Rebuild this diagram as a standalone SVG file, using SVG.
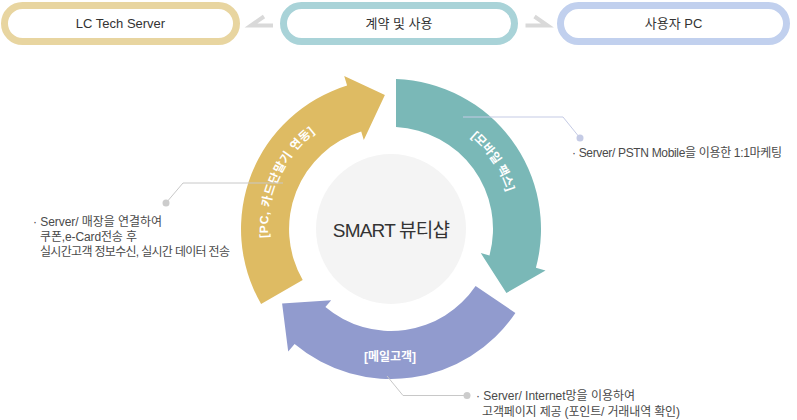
<svg xmlns="http://www.w3.org/2000/svg" width="797" height="420" viewBox="0 0 797 420">
<defs>
<style>
.pill{fill:#fff;stroke-width:7}
.pt{font-family:"Liberation Sans","Noto Sans CJK KR",sans-serif;font-size:13px;fill:#333;text-anchor:middle}
.chev{fill:none;stroke:#D9D9D9;stroke-width:4;stroke-linejoin:miter}
.lbl{font-family:"Liberation Sans","Noto Sans CJK KR",sans-serif;font-size:12px;font-weight:bold;fill:#fff}
.note{font-family:"Liberation Sans","Noto Sans CJK KR",sans-serif;font-size:12px;fill:#4a4a4a}
.ln{fill:none;stroke-width:1}
</style>
<path id="pathY" d="M 275.4 271.1 A 123 123 0 0 1 344.9 115.0"/>
<path id="pathG" d="M 459.2 127.9 A 122 122 0 0 1 510.8 205.7"/>
</defs>
<rect width="797" height="420" fill="#fff"/>

<g id="node-lctech">
<rect class="pill" x="4.5" y="5.5" width="232" height="36" rx="18" stroke="#E8D5A0"/>
<text class="pt" x="120.5" y="28">LC Tech Server</text>
</g>
<g id="node-contract">
<rect class="pill" x="283.5" y="5.5" width="231" height="36" rx="18" stroke="#A9D3D8"/>
<text class="pt" x="399" y="28">계약 및 사용</text>
</g>
<g id="node-userpc">
<rect class="pill" x="560.5" y="5.5" width="226" height="36" rx="18" stroke="#C1D0EE"/>
<text class="pt" x="673.5" y="28">사용자 PC</text>
</g>

<g id="node-center">
<circle cx="391" cy="229" r="75" fill="#F4F4F4"/>
<text x="391" y="237" text-anchor="middle" font-family="'Liberation Sans','Noto Sans CJK KR',sans-serif" font-size="19" letter-spacing="-0.8" fill="#333">SMART 뷰티샵</text>
</g>

<g id="node-pc">
<path d="M 261.1 304 A 150 150 0 0 1 347.1 85.6 L 344.2 76 L 384.9 95.1 L 363.8 140.1 L 361.2 131.5 A 102 102 0 0 0 302.7 280 Z" fill="#DEBB63"/>
<text class="lbl" letter-spacing="0.6"><textPath href="#pathY" startOffset="50%" text-anchor="middle">[PC, 카드단말기 연동]</textPath></text>
</g>
<g id="node-mobile">
<path d="M 396 79.1 A 150 150 0 0 1 535.9 267.8 L 545.5 270.4 L 506.4 293 L 480.8 253.1 L 489.5 255.4 A 102 102 0 0 0 396 127 Z" fill="#7AB8B7"/>
<text class="lbl"><textPath href="#pathG" startOffset="50%" text-anchor="middle">[모바일 팩스]</textPath></text>
</g>
<g id="node-mail">
<path d="M 515.4 312.9 A 150 150 0 0 1 294.6 343.9 L 288.2 351.6 L 282.1 303.6 L 331.2 300.2 L 325.4 307.1 A 102 102 0 0 0 475.6 286 Z" fill="#919BCE"/>
<text class="lbl" x="390" y="361" text-anchor="middle">[메일고객]</text>
</g>

<g id="connectors">
<polyline class="chev" points="264,16.5 251,25.5 273,25.5"/>
<polyline class="chev" points="534.5,16.5 547.5,25.5 525.5,25.5"/>
<polyline class="ln" stroke="#C8C8C8" points="283,183 183,183 166,203"/>
<circle cx="166" cy="203" r="3.5" fill="#CCCCCC"/>
<polyline class="ln" stroke="#C5CBE5" points="463,117 563,117 580,138"/>
<circle cx="580" cy="138" r="3.5" fill="#C5CBE5"/>
<polyline class="ln" stroke="#C8C8C8" points="387,376 403,395.5 467,395.5"/>
<circle cx="467" cy="395.5" r="3.5" fill="#CCCCCC"/>
</g>

<g id="notes">
<text class="note" x="33" y="226" textLength="129" lengthAdjust="spacing">· Server/ 매장을 연결하여</text>
<text class="note" x="40" y="241" textLength="97" lengthAdjust="spacing">쿠폰,e-Card전송 후</text>
<text class="note" x="40" y="256" textLength="190" lengthAdjust="spacing">실시간고객 정보수신, 실시간 데이터 전송</text>
<text class="note" x="572" y="157" textLength="210" lengthAdjust="spacing">· Server/ PSTN Mobile을 이용한 1:1마케팅</text>
<text class="note" x="476" y="400" textLength="159" lengthAdjust="spacing">· Server/ Internet망을 이용하여</text>
<text class="note" x="482" y="416" textLength="198" lengthAdjust="spacing">고객페이지 제공 (포인트/ 거래내역 확인)</text>
</g>
</svg>
